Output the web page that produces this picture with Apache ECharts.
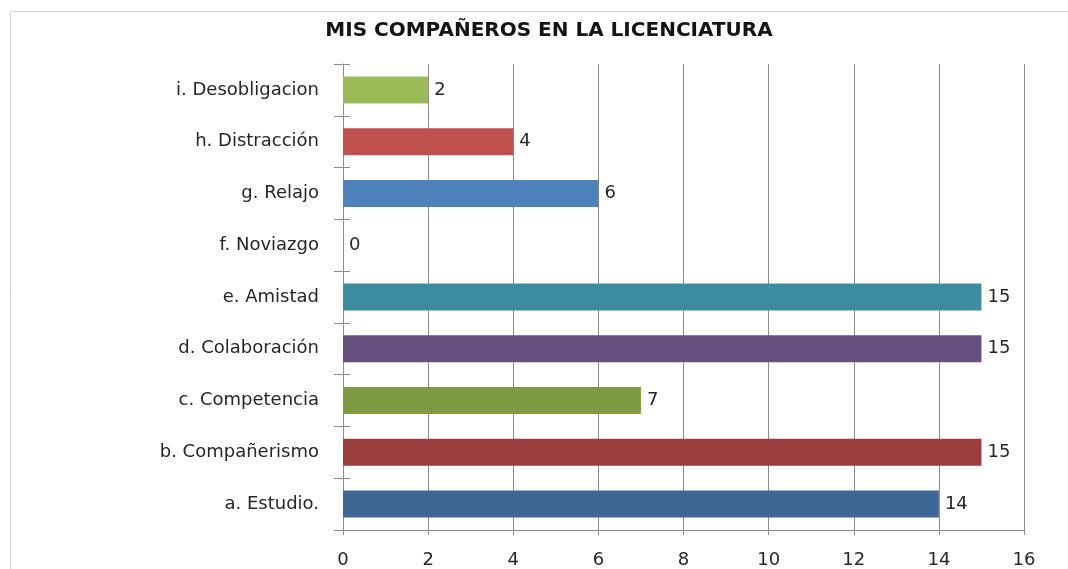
<!DOCTYPE html>
<html>
<head>
<meta charset="utf-8">
<script src="https://cdn.jsdelivr.net/npm/echarts@6/dist/echarts.min.js"></script>
<style>
html,body{margin:0;padding:0;background:#fff;}
#chart{width:1068px;height:569px;}
</style>
</head>
<body>
<div id="chart"></div>
<script>
// Data (bottom to top as drawn on the category axis)
const categories = ["a. Estudio.", "b. Compañerismo", "c. Competencia", "d. Colaboración", "e. Amistad", "f. Noviazgo", "g. Relajo", "h. Distracción", "i. Desobligacion"];
const values = [14, 15, 7, 15, 15, 0, 6, 4, 2];
const xTicks = [0, 2, 4, 6, 8, 10, 12, 14, 16];
const titleText = "MIS COMPAÑEROS EN LA LICENCIATURA";

// Styles
const barColors = ["#3E6796", "#9A3D3C", "#7E9A43", "#674F80", "#3D8BA0", "#4F81BD", "#4F81BD", "#C0504D", "#9BBB59"];
const FONT = "DejaVu Sans";

const chart = echarts.init(document.getElementById('chart'), null, {renderer: 'canvas'});
chart.setOption({
  backgroundColor: '#ffffff',
  animation: false,
  title: {
    text: titleText,
    left: 544,
    textAlign: 'center',
    top: 16,
    textStyle: {fontFamily: FONT, fontSize: 20, fontWeight: 'bold', color: '#141414'}
  },
  graphic: [{
    type: 'rect',
    shape: {x: 10.5, y: 11.5, width: 1200, height: 700},
    style: {fill: 'none', stroke: '#d4d4d4', lineWidth: 1},
    silent: true
  }],
  grid: {left: 343, right: 44, top: 64, bottom: 39, containLabel: false},
  xAxis: {
    type: 'value',
    min: xTicks[0],
    max: xTicks[xTicks.length - 1],
    interval: xTicks[1] - xTicks[0],
    axisLine: {show: true, lineStyle: {color: '#8c8c8c', width: 1}},
    axisTick: {show: true, length: 5, lineStyle: {color: '#8c8c8c'}},
    splitLine: {show: true, lineStyle: {color: '#8c8c8c', width: 1}},
    axisLabel: {margin: 21, fontFamily: FONT, fontSize: 18, color: '#262626'}
  },
  yAxis: [{
    type: 'category',
    data: categories,
    axisLine: {show: true, lineStyle: {color: '#8c8c8c', width: 1}},
    axisTick: {show: true, length: 9, lineStyle: {color: '#8c8c8c'}},
    axisLabel: {margin: 24, fontFamily: FONT, fontSize: 18, color: '#262626'}
  }, {
    type: 'category',
    data: categories,
    position: 'left',
    axisLine: {show: false},
    axisTick: {show: true, inside: true, length: 7, lineStyle: {color: '#8c8c8c'}},
    axisLabel: {show: false}
  }],
  series: [{
    type: 'bar',
    yAxisIndex: 0,
    data: values.map((v, i) => ({value: v, itemStyle: {color: barColors[i]}})),
    barWidth: 27,
    label: {
      show: true,
      position: 'right',
      distance: 6,
      fontFamily: FONT,
      fontSize: 18,
      color: '#262626'
    }
  }]
});
</script>
</body>
</html>
